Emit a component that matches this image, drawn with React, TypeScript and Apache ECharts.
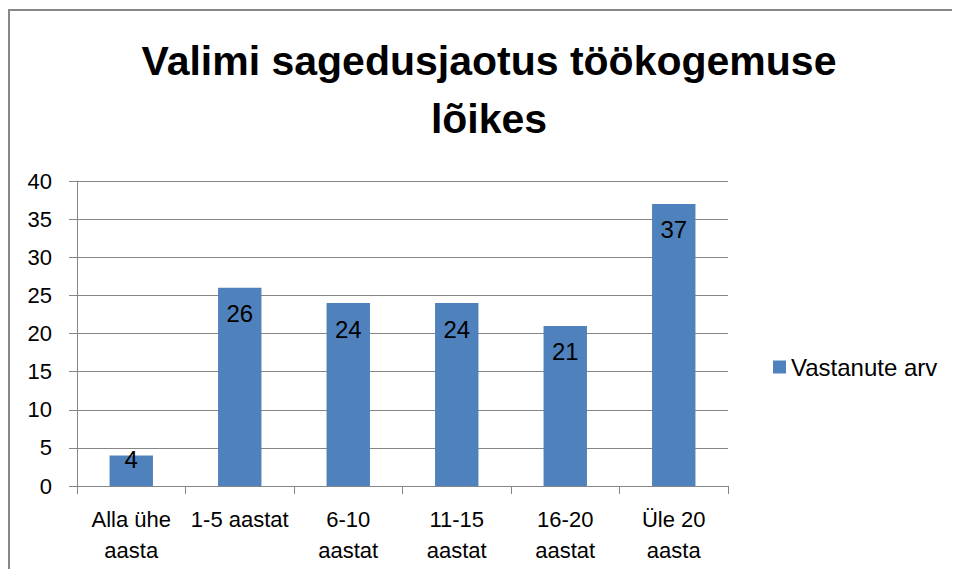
import React, { useEffect, useRef } from "react";
import * as echarts from "echarts";

const categories = ["Alla ühe\naasta", "1-5 aastat", "6-10\naastat", "11-15\naastat", "16-20\naastat", "Üle 20\naasta"];
const values = [4, 26, 24, 24, 21, 37];
const seriesName = "Vastanute arv";
const titleText = "Valimi sagedusjaotus töökogemuse\nlõikes";

const FONT = "'Liberation Sans', Arial, sans-serif";

export default function App() {
  const ref = useRef<HTMLDivElement>(null);
  useEffect(() => {
    if (!ref.current) return;
    const chart = echarts.init(ref.current, null, { renderer: "svg" });
    const data = values.map((v) =>
      v < 8 ? { value: v, label: { distance: -8 } } : { value: v }
    );
    chart.setOption({
      animation: false,
      backgroundColor: "#ffffff",
      textStyle: { fontFamily: FONT },
      title: {
        text: titleText,
        left: 481,
        textAlign: "center",
        top: 24,
        padding: 0,
        textStyle: { fontSize: 41, fontWeight: "bold", color: "#000", lineHeight: 58, fontFamily: FONT },
      },
      graphic: [
        {
          type: "line",
          shape: { x1: 1, y1: 2, x2: 944, y2: 2 },
          style: { stroke: "#878787", lineWidth: 2 },
          silent: true,
        },
        {
          type: "line",
          shape: { x1: 1, y1: 1, x2: 1, y2: 561 },
          style: { stroke: "#878787", lineWidth: 2 },
          silent: true,
        },
      ],
      legend: {
        left: 765,
        top: 347,
        padding: 0,
        itemWidth: 13,
        itemHeight: 13,
        icon: "rect",
        textStyle: { fontSize: 24, color: "#000", fontFamily: FONT },
        data: [seriesName],
      },
      grid: { left: 69, right: 224, top: 173, bottom: 83, containLabel: false },
      xAxis: {
        type: "category",
        data: categories,
        axisLine: { lineStyle: { color: "#868686", width: 1 } },
        axisTick: { show: true, length: 8, lineStyle: { color: "#868686" } },
        axisLabel: { fontSize: 22, color: "#000", lineHeight: 31, margin: 18, interval: 0, fontFamily: FONT },
      },
      yAxis: {
        type: "value",
        min: 0,
        max: 40,
        interval: 5,
        axisLine: { show: true, lineStyle: { color: "#868686", width: 1 } },
        axisTick: { show: true, length: 8, lineStyle: { color: "#868686" } },
        splitLine: { show: true, lineStyle: { color: "#868686", width: 1 } },
        axisLabel: { fontSize: 22, color: "#000", margin: 25, fontFamily: FONT },
      },
      series: [
        {
          name: seriesName,
          type: "bar",
          data,
          barWidth: "40%",
          itemStyle: { color: "#4F81BD" },
          label: {
            show: true,
            position: "insideTop",
            distance: 14,
            fontSize: 24,
            color: "#000",
            fontFamily: FONT,
          },
        },
      ],
    });
    return () => chart.dispose();
  }, []);
  return <div ref={ref} style={{ width: 944, height: 561 }} />;
}
